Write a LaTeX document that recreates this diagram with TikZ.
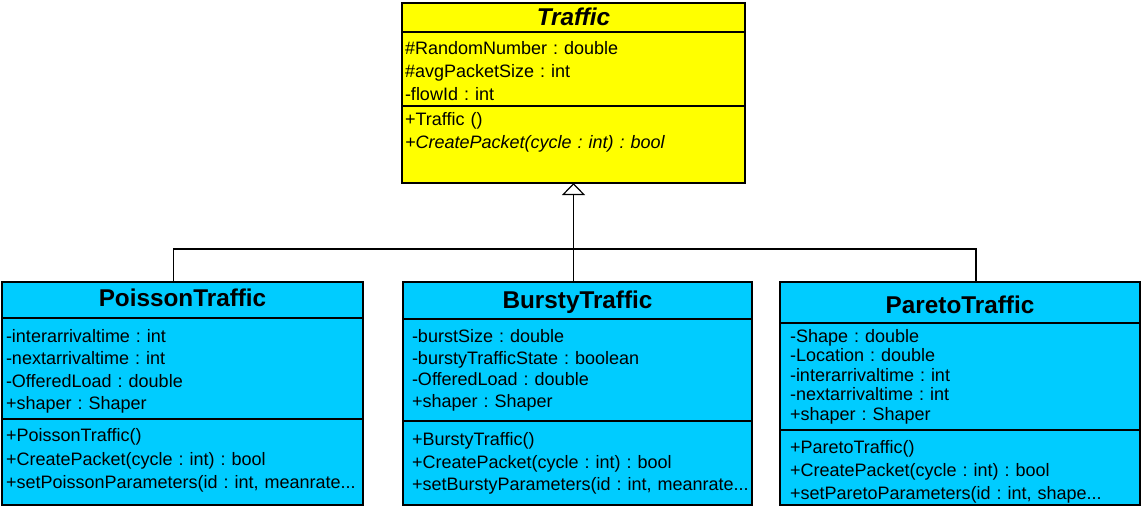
\documentclass[tikz,border=0pt]{standalone}
\usepackage{fontspec}
\setmainfont{Liberation Sans}
\frenchspacing
\usetikzlibrary{positioning}
\usetikzlibrary{arrows.meta}

\definecolor{umlyellow}{HTML}{FFFF00}
\definecolor{umlcyan}{HTML}{00CCFF}

\tikzset{
  umlname/.style={draw, inner sep=0pt, outer sep=0pt, text height=17.5pt, text depth=2pt, font=\fontsize{24.3}{28}\selectfont\bfseries},
  umlpart/.style={draw, align=left, inner ysep=0pt, outer sep=0pt, font=\fontsize{18}{#1}\selectfont},
  umlpart/.default=23pt,
  inherit/.style={-{Triangle[open,length=12pt,width=23pt]}},
}

\begin{document}
\begin{tikzpicture}[x=1pt, y=1pt, line width=1.2pt]
  \useasboundingbox (0,0) rectangle (1141,-507);

  \begin{scope}[node distance=0]
    % base class
    \node[umlname, fill=umlyellow, minimum width=343pt, minimum height=29pt, anchor=north west] (trafN) at (402,-3) {\textit{Traffic}};
    \node[umlpart, fill=umlyellow, text width=337pt, inner xsep=3pt, text height=22.5pt, text depth=51.5pt, below=of trafN] (trafA)
      {\#RandomNumber : double\\ \#avgPacketSize : int\\ -flowId : int};
    \node[umlpart=23.5pt, fill=umlyellow, text width=337pt, inner xsep=3pt, text height=19pt, text depth=58pt, below=of trafA] (trafO)
      {+Traffic ()\\ \textit{+CreatePacket(cycle : int) : bool}};

    % PoissonTraffic
    \node[umlname, fill=umlcyan, minimum width=361pt, minimum height=36pt, anchor=north west, text depth=4pt] (poisN) at (2,-282) {PoissonTraffic};
    \node[umlpart=22.3pt, fill=umlcyan, text width=353pt, inner xsep=4pt, text height=24.5pt, text depth=76.5pt, below=of poisN] (poisA)
      {-interarrivaltime : int\\ -nextarrivaltime : int\\ -OfferedLoad : double\\ +shaper : Shaper};
    \node[umlpart=23.5pt, fill=umlcyan, text width=353pt, inner xsep=4pt, text height=22.5pt, text depth=63.5pt, below=of poisA] (poisO)
      {+PoissonTraffic()\\ +CreatePacket(cycle : int) : bool\\ \mbox{+setPoissonParameters(id : int, meanrate...}};

    % BurstyTraffic
    \node[umlname, fill=umlcyan, minimum width=349pt, minimum height=37pt, anchor=north west, text depth=1pt] (burstN) at (403,-282) {BurstyTraffic};
    \node[umlpart=21.7pt, fill=umlcyan, text width=331pt, inner xsep=9pt, text height=23.5pt, text depth=78.5pt, below=of burstN] (burstA)
      {-burstSize : double\\ -burstyTrafficState : boolean\\ -OfferedLoad : double\\ +shaper : Shaper};
    \node[umlpart=22.5pt, fill=umlcyan, text width=331pt, inner xsep=9pt, text height=24.5pt, text depth=59.5pt, below=of burstA] (burstO)
      {+BurstyTraffic()\\ +CreatePacket(cycle : int) : bool\\ \mbox{+setBurstyParameters(id : int, meanrate...}};

    % ParetoTraffic
    \node[umlname, fill=umlcyan, minimum width=360pt, minimum height=41pt, anchor=north west, text height=21pt, text depth=0pt] (paretoN) at (780,-282) {ParetoTraffic};
    \node[umlpart=19.6pt, fill=umlcyan, text width=340pt, inner xsep=10pt, text height=19pt, text depth=88pt, below=of paretoN] (paretoA)
      {-Shape : double\\ -Location : double\\ -interarrivaltime : int\\ -nextarrivaltime : int\\ +shaper : Shaper};
    \node[umlpart=23.3pt, fill=umlcyan, text width=340pt, inner xsep=10pt, text height=23pt, text depth=52pt, below=of paretoA] (paretoO)
      {+ParetoTraffic()\\ +CreatePacket(cycle : int) : bool\\ \mbox{+setParetoParameters(id : int, shape...}};
  \end{scope}

  % generalization
  \coordinate (bus) at ([yshift=-66pt]trafO.south);
  \draw ([xshift=-9pt]poisN.north) |- (bus) -| ([xshift=16pt]paretoN.north);
  \draw[inherit] (burstN.north -| trafO.south) -- (trafO.south);
\end{tikzpicture}
\end{document}
